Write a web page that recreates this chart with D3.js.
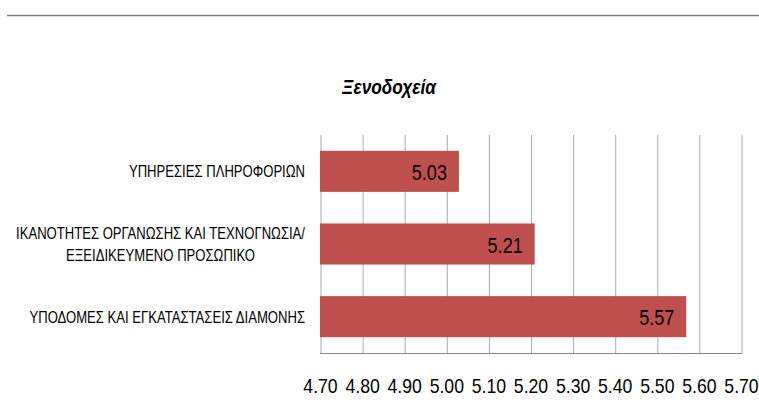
<!DOCTYPE html>
<html>
<head>
<meta charset="utf-8">
<style>
    body { margin: 0; background: #fff; }
    svg text { font-family: 'Liberation Sans', Arial, sans-serif; fill: #000; }
</style>
</head>
<body>
    <div id='chart'></div>
<script src='https://cdn.jsdelivr.net/npm/d3@7'></script>
<script>
    var categories = [
        ['ΥΠΗΡΕΣΙΕΣ ΠΛΗΡΟΦΟΡΙΩΝ'],
        ['ΙΚΑΝΟΤΗΤΕΣ ΟΡΓΑΝΩΣΗΣ ΚΑΙ ΤΕΧΝΟΓΝΩΣΙΑ/', 'ΕΞΕΙΔΙΚΕΥΜΕΝΟ ΠΡΟΣΩΠΙΚΟ'],
        ['ΥΠΟΔΟΜΕΣ ΚΑΙ ΕΓΚΑΤΑΣΤΑΣΕΙΣ ΔΙΑΜΟΝΗΣ']
    ];
    var values = [5.03, 5.21, 5.57];
    var tick_values = [4.7, 4.8, 4.9, 5.0, 5.1, 5.2, 5.3, 5.4, 5.5, 5.6, 5.7];
    var title = 'Ξενοδοχεία';

    var width = 759,
        height = 412;

    var margin = {top: 135, right: 18, bottom: 58, left: 320};

    // no narrow font installed: squeeze Liberation Sans horizontally instead
    function narrow(sel, k){
        k = k || 0.82;
        sel.each(function(){
            var w = this.getComputedTextLength();
            d3.select(this).attr('textLength', w * k).attr('lengthAdjust', 'spacingAndGlyphs');
        });
    }

    var svg = d3.select('#chart')
        .append('svg')
        .attr('width', width)
        .attr('height', height);

    // thin rule across the top of the page
    svg.append('line')
        .attr('x1', 7).attr('x2', width)
        .attr('y1', 15.5).attr('y2', 15.5)
        .style('stroke', '#808080')
        .style('stroke-width', 1.5);

    svg.append('text')
        .attr('x', 389)
        .attr('y', 87)
        .attr('dy', '0.35em')
        .attr('text-anchor', 'middle')
        .style('font-size', '20px')
        .style('font-weight', 'bold')
        .style('font-style', 'italic')
        .text(title)
        .call(narrow, 0.86);

    var x = d3.scaleLinear()
        .domain([tick_values[0], tick_values[tick_values.length - 1]])
        .range([margin.left, width - margin.right]);

    var y = d3.scaleBand()
        .domain(d3.range(values.length))
        .range([margin.top, height - margin.bottom - 1])
        .paddingInner(0.435)
        .paddingOuter(0.2175);

    var plot_bottom = height - margin.bottom - 0.5;

    // gridlines
    var grid = svg.append('g')
        .attr('transform', 'translate(0,' + plot_bottom + ')')
        .call(d3.axisBottom(x)
            .tickValues(tick_values)
            .tickSize(-(plot_bottom - margin.top))
            .tickFormat(''));
    grid.select('.domain').remove();
    grid.selectAll('.tick line')
        .style('stroke', '#ABABAB')
        .attr('transform', 'translate(0.5,0)');

    // bottom axis line
    svg.append('line')
        .attr('x1', x.range()[0]).attr('x2', x.range()[1] + 1)
        .attr('y1', plot_bottom).attr('y2', plot_bottom)
        .style('stroke', '#868686');

    // tick labels
    var axis = svg.append('g')
        .attr('transform', 'translate(0,' + plot_bottom + ')')
        .call(d3.axisBottom(x)
            .tickValues(tick_values)
            .tickSize(0)
            .tickFormat(d3.format('.2f')));
    axis.select('.domain').remove();
    axis.selectAll('text')
        .attr('y', 32)
        .attr('dy', '0.35em')
        .style('font-family', "'Liberation Sans', Arial, sans-serif")
        .style('font-size', '21px')
        .style('fill', '#000')
        .call(narrow, 0.84);

    // bars
    svg.selectAll('rect.bar')
        .data(values)
        .enter()
        .append('rect')
        .attr('class', 'bar')
        .attr('x', x(tick_values[0]))
        .attr('y', function(d, i){ return y(i); })
        .attr('width', function(d){ return x(d) - x(tick_values[0]); })
        .attr('height', y.bandwidth())
        .style('fill', '#C0504D');

    // value labels inside the bars
    svg.selectAll('text.value')
        .data(values)
        .enter()
        .append('text')
        .attr('class', 'value')
        .attr('x', function(d){ return x(d) - 12; })
        .attr('y', function(d, i){ return y(i) + y.bandwidth() / 2 + 1; })
        .attr('dy', '0.35em')
        .attr('text-anchor', 'end')
        .style('font-size', '22px')
        .text(function(d){ return d3.format('.2f')(d); })
        .call(narrow, 0.82);

    // category labels (wrapped labels are centred like Excel does)
    var label_right = 305,
        line_height = 22;

    var labels = svg.selectAll('text.cat')
        .data(categories)
        .enter()
        .append('text')
        .attr('class', 'cat')
        .style('font-size', '17px');

    labels.each(function(lines, i){
        var t = d3.select(this);
        var cy = y(i) + y.bandwidth() / 2;
        lines.forEach(function(line, j){
            t.append('tspan')
                .attr('x', label_right)
                .attr('y', cy + (j - (lines.length - 1) / 2) * line_height)
                .attr('dy', '0.35em')
                .text(line);
        });
        t.selectAll('tspan').call(narrow, 0.77);
        if(lines.length > 1){
            var w = d3.max(t.selectAll('tspan').nodes(), function(n){ return +n.getAttribute('textLength'); });
            t.attr('text-anchor', 'middle')
                .selectAll('tspan').attr('x', label_right - w / 2);
        } else {
            t.attr('text-anchor', 'end');
        }
    });
</script>
</body>
</html>
